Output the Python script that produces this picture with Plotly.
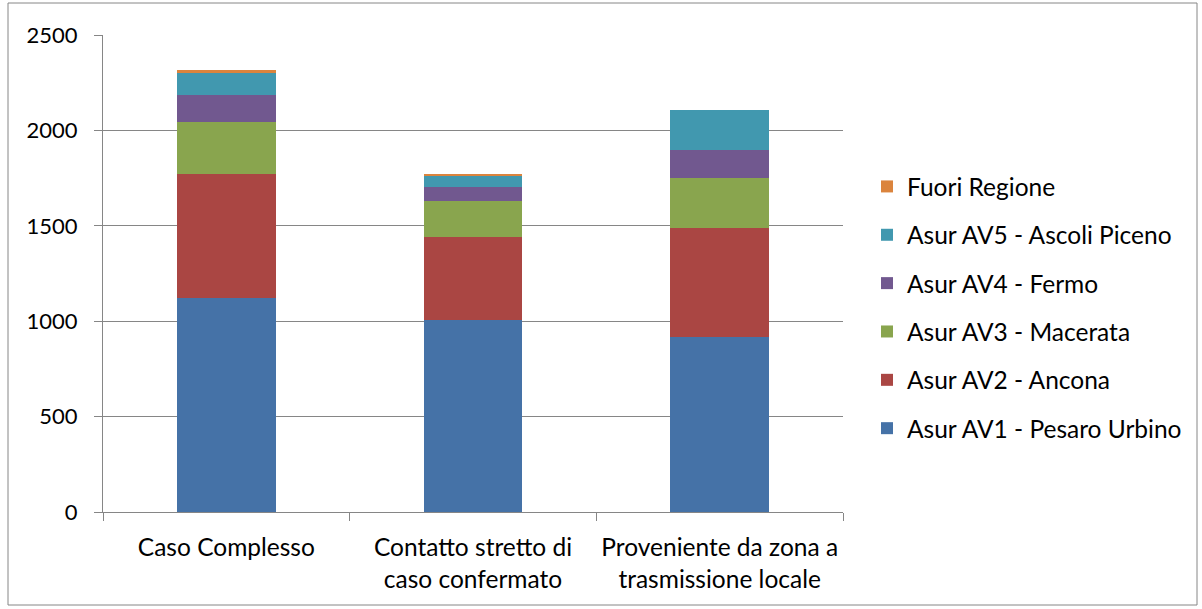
import plotly.graph_objects as go

categories = ["Caso Complesso", "Contatto stretto di<br>caso confermato", "Proveniente da zona a<br>trasmissione locale"]
series_names = ["Asur AV1 - Pesaro Urbino", "Asur AV2 - Ancona", "Asur AV3 - Macerata",
                "Asur AV4 - Fermo", "Asur AV5 - Ascoli Piceno", "Fuori Regione"]
av1 = [1123, 1006, 916]
av2 = [648, 437, 571]
av3 = [271, 187, 262]
av4 = [145, 75, 148]
av5 = [119, 61, 210]
fuori = [8, 5, 0]
colors = ["#4572A7", "#AA4643", "#89A54E", "#71588F", "#4198AF", "#DB843D"]

values = [av1, av2, av3, av4, av5, fuori]

fig = go.Figure()
n = len(series_names)
for i, (name, vals, col) in enumerate(zip(series_names, values, colors)):
    fig.add_trace(go.Bar(x=categories, y=vals, name=name, marker_color=col,
                         marker_line_width=0, legendgroup=name, legendrank=n - i))

W, H = 1202, 609
l, r, t, b = 103, W - 843, 35, H - 512
pw, ph = W - l - r, H - t - b

fig.update_layout(
    width=W, height=H,
    barmode="stack", bargap=0.6,
    margin=dict(l=l, r=r, t=t, b=b),
    plot_bgcolor="white", paper_bgcolor="white",
    font=dict(family="Lato, Carlito, Calibri, sans-serif", size=24, color="#000000"),
    showlegend=True,
    legend=dict(traceorder="grouped", x=(867 - l) / pw, y=(512 - 164) / ph,
                xanchor="left", yanchor="top",
                tracegroupgap=13.5, font=dict(size=24.5), itemwidth=30),
    xaxis=dict(showline=True, linecolor="#868686", linewidth=1, ticks="outside",
               tickson="boundaries", ticklen=8, tickcolor="#868686",
               tickfont=dict(size=24.5), ticklabelstandoff=14),
    yaxis=dict(range=[0, 2500], dtick=500, showgrid=True, gridcolor="#868686", gridwidth=1,
               showline=True, linecolor="#868686", linewidth=1, ticks="outside",
               ticklen=8, tickcolor="#868686", zeroline=False, tickfont=dict(size=22),
               ticklabelstandoff=12),
    shapes=[dict(type="rect", xref="paper", yref="paper",
                 x0=(8 - l) / pw, x1=(1197 - l) / pw,
                 y0=(512 - 605) / ph, y1=(512 - 3) / ph,
                 line=dict(color="#868686", width=1), layer="below")],
)

fig.write_html("out.html", config={"displayModeBar": False},
               post_script="document.body.style.margin='0';")
